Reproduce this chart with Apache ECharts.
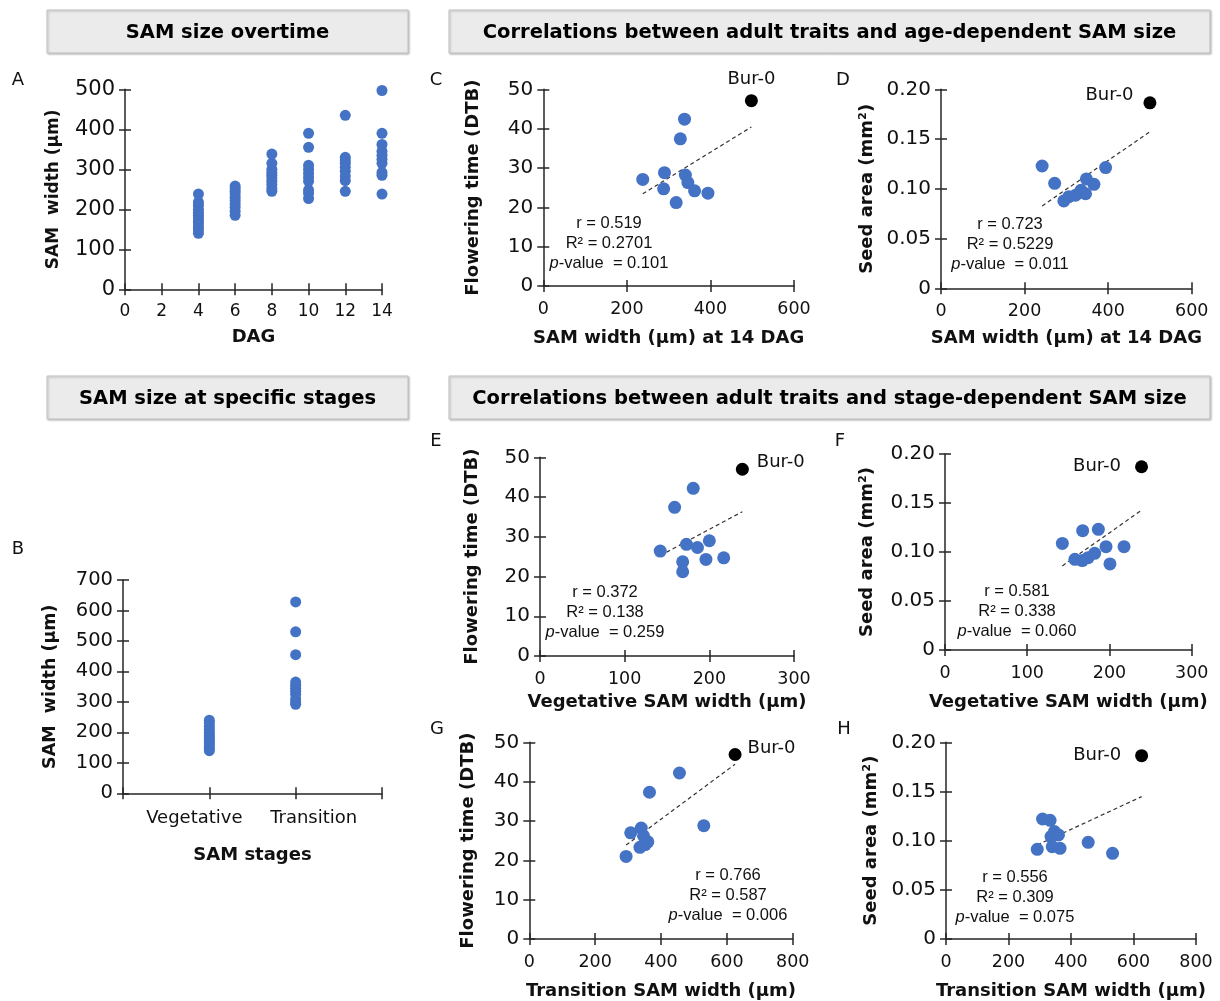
<!DOCTYPE html>
<html><head><meta charset="utf-8">
<script src="https://cdn.jsdelivr.net/npm/echarts@6/dist/echarts.min.js"></script>
<style>html,body{margin:0;padding:0;background:#fff}#c{width:1220px;height:1001px}</style>
</head><body><div id="c"></div><script>
// ---------- DATA ----------
const dagValues = [4, 6, 8, 10, 12, 14];
const dag4 = [140,148,155,163,170,178,185,192,200,210,218,238];
const dag6 = [185,195,205,213,222,230,238,245,252,258];
const dag8 = [245,252,262,270,278,285,292,300,315,338];
const dag10 = [227,240,248,270,280,290,300,310,355,390];
const dag12 = [245,272,283,295,305,315,322,330,435];
const dag14 = [238,285,292,315,325,335,345,362,390,497];

const stageCategories = ['', 'Vegetative', 'Transition', ''];
const vegetativeWidth = [140,148,155,163,170,178,185,192,200,210,220,232,240];
const transitionWidth = [292,300,310,325,335,345,355,365,455,530,628];

const cSam14 = [238,288,290,318,328,338,340,346,362,394];
const cFT    = [27.1,24.7,28.8,21.2,37.4,42.4,28.2,26.3,24.2,23.6];
const cBur   = [498,47.1];

const dSam14 = [242,272,294,306,322,335,346,348,366,394];
const dSeed  = [0.1229,0.1055,0.0878,0.0921,0.0935,0.0985,0.0950,0.1099,0.1045,0.1213];
const dBur   = [500,0.1864];

const eVeg = [142,159,168.5,168.5,173,181,186,196,200,217];
const eFT  = [26.4,37.4,23.7,21.2,28.1,42.2,27.3,24.3,29.0,24.7];
const eBur = [239,47.0];

const fVeg  = [142.7,158,167,167.4,174,182,186.5,195.8,200.6,217.7];
const fSeed = [0.1088,0.0925,0.0912,0.1218,0.0942,0.0986,0.1231,0.1054,0.0878,0.1054];
const fBur  = [239,0.187];

const gTrans = [294,308,336,340,347,352,360,365,456,530];
const gFT    = [21.0,27.0,23.3,28.2,26.2,24.0,24.7,37.3,42.2,28.8];
const gBur   = [625,46.9];

const hTrans = [292,309,333,336,340,347,360,365,455,533];
const hSeed  = [0.0912,0.1220,0.1207,0.1041,0.0939,0.1092,0.1058,0.0922,0.0983,0.0871];
const hBur   = [626,0.1864];

const statsC = ['0.519','0.2701','0.101'];
const statsD = ['0.723','0.5229','0.011'];
const statsE = ['0.372','0.138','0.259'];
const statsF = ['0.581','0.338','0.060'];
const statsG = ['0.766','0.587','0.006'];
const statsH = ['0.556','0.309','0.075'];

// ---------- BUILD ----------
const FONT = '"DejaVu Sans", Verdana, sans-serif';
const SFONT = '"Liberation Sans", Arial, sans-serif';
const AX = '#262626';
const TXT = '#111';
const BLUE = '#4472C4';
const grids = [], xAxes = [], yAxes = [], series = [], graphics = [];

function addAxes(list, gi, isX, base, extra) {
  const main = Object.assign({
    gridIndex: gi, position: isX ? 'bottom' : 'left',
    axisLine: {show: true, onZero: false, lineStyle: {color: AX, width: 1.5}},
    axisTick: {show: true, inside: false, length: 6, alignWithLabel: true, interval: 0, lineStyle: {color: AX, width: 1.5}},
    axisLabel: {color: TXT, fontSize: extra.fontSize || (isX ? 17.5 : 20), fontFamily: FONT, margin: extra.margin || 10,
      formatter: extra.formatter, rich: extra.rich, interval: 0},
    splitLine: {show: false},
    name: extra.name, nameLocation: 'middle', nameGap: extra.nameGap,
    nameTextStyle: {color: TXT, fontSize: extra.nameSize || 18, fontWeight: 'bold', fontFamily: FONT}
  }, base);
  list.push(main);
  const idx = list.length - 1;
  list.push(Object.assign({
    gridIndex: gi, position: isX ? 'bottom' : 'left',
    axisLine: {show: false, onZero: false},
    axisTick: {show: true, inside: true, length: 6, alignWithLabel: true, interval: 0, lineStyle: {color: AX, width: 1.5}},
    axisLabel: {show: false}, splitLine: {show: false}
  }, base));
  return idx;
}

function panel(rect, xBase, xExtra, yBase, yExtra) {
  grids.push({left: rect[0], top: rect[1], width: rect[2], height: rect[3]});
  const gi = grids.length - 1;
  return {x: addAxes(xAxes, gi, true, xBase, xExtra), y: addAxes(yAxes, gi, false, yBase, yExtra)};
}

function zip(xs, ys) { return xs.map((x, i) => [x, ys[i]]); }

function trend(xs, ys) {
  const n = xs.length;
  const mx = xs.reduce((a, b) => a + b, 0) / n, my = ys.reduce((a, b) => a + b, 0) / n;
  let sxy = 0, sxx = 0;
  for (let i = 0; i < n; i++) { sxy += (xs[i] - mx) * (ys[i] - my); sxx += (xs[i] - mx) ** 2; }
  const b = sxy / sxx, a = my - b * mx;
  const x0 = Math.min(...xs), x1 = Math.max(...xs);
  return [[x0, a + b * x0], [x1, a + b * x1]];
}

const seedFmt = v => v === 0 ? '0' : v.toFixed(2);

function corrPanel(ax, xs, ys, bur, labelOpt) {
  const allX = xs.concat([bur[0]]), allY = ys.concat([bur[1]]);
  series.push({type: 'line', xAxisIndex: ax.x, yAxisIndex: ax.y, data: trend(allX, allY), symbol: 'none',
    lineStyle: {color: '#333', width: 1.2, type: [4, 3]}, z: 1, silent: true});
  series.push({type: 'scatter', xAxisIndex: ax.x, yAxisIndex: ax.y, data: zip(xs, ys), symbolSize: 13,
    itemStyle: {color: BLUE, opacity: 1}, z: 3});
  series.push({type: 'scatter', xAxisIndex: ax.x, yAxisIndex: ax.y, data: [bur], symbolSize: 13,
    itemStyle: {color: '#000', opacity: 1}, z: 4,
    label: Object.assign({show: true, formatter: 'Bur-0', color: TXT, opacity: 1, fontSize: 18, fontFamily: FONT}, labelOpt)});
}

// A
const axA = panel([125, 89.3, 257, 200],
  {type: 'value', min: 0, max: 14, interval: 2}, {name: 'DAG', nameGap: 39, margin: 14, fontSize: 17},
  {type: 'value', min: 0, max: 500, interval: 100}, {name: 'SAM  width (µm)', nameGap: 63, margin: 10, fontSize: 21, nameSize: 17});
const dagSets = [dag4, dag6, dag8, dag10, dag12, dag14];
const aData = [];
dagSets.forEach((arr, i) => arr.forEach(v => aData.push([dagValues[i], v])));
series.push({type: 'scatter', xAxisIndex: axA.x, yAxisIndex: axA.y, data: aData, symbolSize: 11, itemStyle: {color: BLUE, opacity: 1}});

// B
const labelRich = {
  v: {padding: [0, 30, 0, 0], fontSize: 18, fontFamily: FONT, color: TXT},
  t: {padding: [0, 0, 0, 36], fontSize: 18, fontFamily: FONT, color: TXT}
};
const axB = panel([123, 580, 259, 213.3],
  {type: 'category', data: stageCategories, boundaryGap: false},
  {name: 'SAM stages', nameGap: 53, margin: 16, rich: labelRich,
   formatter: v => v === 'Vegetative' ? '{v|Vegetative}' : (v === 'Transition' ? '{t|Transition}' : '')},
  {type: 'value', min: 0, max: 700, interval: 100}, {name: 'SAM  width (µm)', nameGap: 64, margin: 10, fontSize: 19.5, nameSize: 17.5});
const bData = vegetativeWidth.map(v => ['Vegetative', v]).concat(transitionWidth.map(v => ['Transition', v]));
series.push({type: 'scatter', xAxisIndex: axB.x, yAxisIndex: axB.y, data: bData, symbolSize: 11, itemStyle: {color: BLUE, opacity: 1}});

// C
const axC = panel([543.3, 89.3, 250.7, 196.7],
  {type: 'value', min: 0, max: 600, interval: 200}, {name: 'SAM width (µm) at 14 DAG', nameGap: 43, margin: 14},
  {type: 'value', min: 0, max: 50, interval: 10}, {name: 'Flowering time (DTB)', nameGap: 61, margin: 10});
corrPanel(axC, cSam14, cFT, cBur, {position: 'top', distance: 6});

// D
const axD = panel([941, 89.3, 250.7, 199],
  {type: 'value', min: 0, max: 600, interval: 200}, {name: 'SAM width (µm) at 14 DAG', nameGap: 41, margin: 14},
  {type: 'value', min: 0, max: 0.2, interval: 0.05}, {name: 'Seed area (mm²)', nameGap: 65, margin: 10, formatter: seedFmt});
corrPanel(axD, dSam14, dSeed, dBur, {position: 'left', distance: 10, offset: [0, -8]});

// E
const axE = panel([540, 457.3, 254, 198.7],
  {type: 'value', min: 0, max: 300, interval: 100}, {name: 'Vegetative SAM width (µm)', nameGap: 37, margin: 14},
  {type: 'value', min: 0, max: 50, interval: 10}, {name: 'Flowering time (DTB)', nameGap: 59, margin: 10});
corrPanel(axE, eVeg, eFT, eBur, {position: 'right', distance: 8, offset: [0, -7]});

// F
const axF = panel([945, 454, 246.7, 196],
  {type: 'value', min: 0, max: 300, interval: 100}, {name: 'Vegetative SAM width (µm)', nameGap: 43, margin: 14},
  {type: 'value', min: 0, max: 0.2, interval: 0.05}, {name: 'Seed area (mm²)', nameGap: 69, margin: 10, formatter: seedFmt});
corrPanel(axF, fVeg, fSeed, fBur, {position: 'left', distance: 14});

// G
const axG = panel([529.3, 742.3, 263.4, 196.7],
  {type: 'value', min: 0, max: 800, interval: 200}, {name: 'Transition SAM width (µm)', nameGap: 43, margin: 14},
  {type: 'value', min: 0, max: 50, interval: 10}, {name: 'Flowering time (DTB)', nameGap: 52, margin: 10});
corrPanel(axG, gTrans, gFT, gBur, {position: 'right', distance: 6, offset: [0, -6]});

// H
const axH = panel([946, 742.3, 250, 196.7],
  {type: 'value', min: 0, max: 800, interval: 200}, {name: 'Transition SAM width (µm)', nameGap: 43, margin: 14},
  {type: 'value', min: 0, max: 0.2, interval: 0.05}, {name: 'Seed area (mm²)', nameGap: 66, margin: 10, formatter: seedFmt});
corrPanel(axH, hTrans, hSeed, hBur, {position: 'left', distance: 14});

// ---------- GRAPHICS ----------
function titleBox(x, y, w, h, text) {
  graphics.push({type: 'rect', shape: {x: x, y: y, width: w, height: h},
    style: {fill: '#ebebeb', stroke: '#c4c4c4', lineWidth: 1, shadowBlur: 2, shadowOffsetX: 1, shadowOffsetY: 1, shadowColor: 'rgba(0,0,0,0.25)'}, z: 0});
  graphics.push({type: 'text', style: {text: text, x: x + w / 2, y: y + h / 2 + 1, textAlign: 'center', textVerticalAlign: 'middle',
    font: 'bold 19.5px ' + FONT, fill: '#000'}, z: 1});
}
titleBox(47, 10, 361, 43, 'SAM size overtime');
titleBox(449, 10, 761, 43, 'Correlations between adult traits and age-dependent SAM size');
titleBox(47, 376, 361, 43, 'SAM size at specific stages');
titleBox(449, 376, 761, 43, 'Correlations between adult traits and stage-dependent SAM size');

const letters = [['A', 18, 80], ['B', 18, 549], ['C', 436, 80], ['D', 843, 80], ['E', 436, 441], ['F', 840, 441], ['G', 437, 729], ['H', 844, 729]];
letters.forEach(l => graphics.push({type: 'text', style: {text: l[0], x: l[1], y: l[2], textAlign: 'center', textVerticalAlign: 'middle', font: '18px ' + FONT, fill: TXT}}));

function stats(s, cx, y0) {
  const lines = ['r = ' + s[0], 'R² = ' + s[1]];
  lines.forEach((t, i) => graphics.push({type: 'text', style: {text: t, x: cx, y: y0 + i * 20, textAlign: 'center', textVerticalAlign: 'middle', font: '16.5px ' + SFONT, fill: TXT}}));
  graphics.push({type: 'text', style: {text: '{i|p}-value  = ' + s[2], x: cx, y: y0 + 40, textAlign: 'center', textVerticalAlign: 'middle',
    font: '16.5px ' + SFONT, fill: TXT, rich: {i: {fontStyle: 'italic', fontSize: 16.5, fontFamily: SFONT, fill: TXT}}}});
}
stats(statsC, 609, 223);
stats(statsD, 1010, 224);
stats(statsE, 605, 592);
stats(statsF, 1017, 591);
stats(statsG, 728, 875);
stats(statsH, 1015, 877);

const chart = echarts.init(document.getElementById('c'), null, {renderer: 'canvas'});
chart.setOption({
  animation: false, backgroundColor: '#fff',
  textStyle: {fontFamily: FONT},
  grid: grids, xAxis: xAxes, yAxis: yAxes, series: series, graphic: graphics
});
</script></body></html>
